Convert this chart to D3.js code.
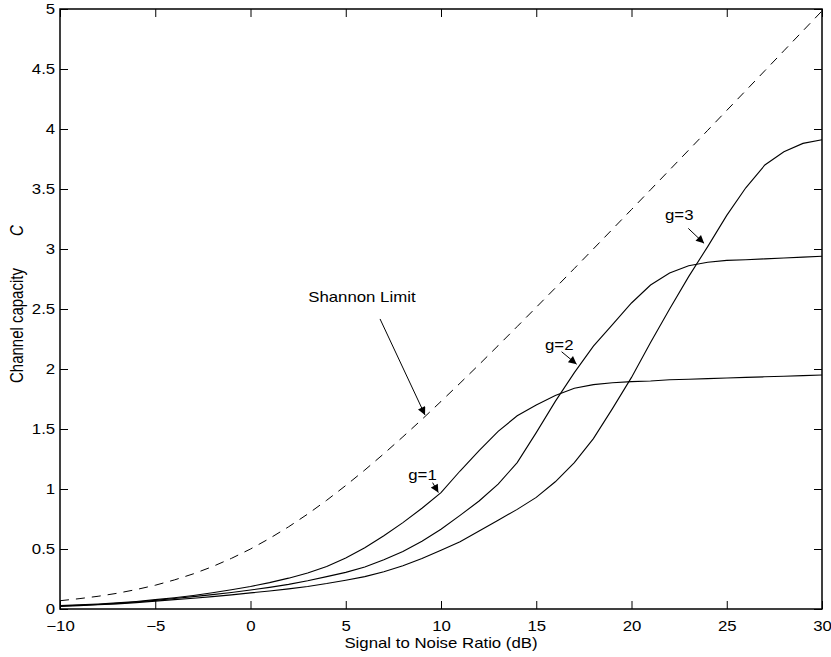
<!DOCTYPE html>
<html>
<head>
<meta charset="utf-8">
<script src="https://cdn.jsdelivr.net/npm/d3@7"></script>
<style>
  body { margin: 0; background: #fff; }
  text { font-family: "Liberation Sans", Arial, Helvetica, sans-serif; fill: #000; }
</style>
</head>
<body>
<script>
// SNR (dB) sample points
var snrDb = [-10, -9, -8, -7, -6, -5, -4, -3, -2, -1, 0, 1, 2, 3, 4, 5, 6, 7, 8, 9, 10,
  11, 12, 13, 14, 15, 16, 17, 18, 19, 20, 21, 22, 23, 24, 25, 26, 27, 28, 29, 30];

// Shannon limit (dashed)
var shannon = [0.069, 0.086, 0.106, 0.131, 0.162, 0.198, 0.242, 0.293, 0.353, 0.422, 0.5,
  0.588, 0.685, 0.791, 0.906, 1.029, 1.158, 1.294, 1.435, 1.58, 1.73,
  1.882, 2.037, 2.195, 2.354, 2.514, 2.675, 2.838, 3.001, 3.165, 3.329,
  3.494, 3.659, 3.824, 3.989, 4.155, 4.32, 4.486, 4.652, 4.818, 4.984];

// g=1
var g1 = [0.028, 0.034, 0.042, 0.051, 0.063, 0.078, 0.094, 0.113, 0.135, 0.16, 0.188,
  0.22, 0.257, 0.3, 0.355, 0.425, 0.51, 0.61, 0.72, 0.84, 0.97,
  1.15, 1.32, 1.48, 1.61, 1.7, 1.78, 1.84, 1.87, 1.885, 1.895,
  1.9, 1.91, 1.915, 1.92, 1.925, 1.93, 1.935, 1.94, 1.945, 1.95];

// g=2
var g2 = [0.025, 0.031, 0.038, 0.047, 0.058, 0.072, 0.087, 0.103, 0.12, 0.138, 0.158,
  0.18, 0.205, 0.235, 0.27, 0.305, 0.35, 0.41, 0.48, 0.565, 0.665,
  0.78, 0.9, 1.04, 1.22, 1.47, 1.73, 1.97, 2.19, 2.37, 2.55,
  2.7, 2.8, 2.86, 2.89, 2.905, 2.91, 2.918, 2.925, 2.932, 2.94];

// g=3
var g3 = [0.022, 0.028, 0.035, 0.043, 0.053, 0.066, 0.078, 0.09, 0.103, 0.118, 0.134,
  0.15, 0.168, 0.188, 0.212, 0.24, 0.27, 0.31, 0.36, 0.42, 0.49,
  0.56, 0.65, 0.74, 0.83, 0.93, 1.06, 1.22, 1.42, 1.67, 1.93,
  2.22, 2.5, 2.77, 3.02, 3.28, 3.51, 3.7, 3.81, 3.88, 3.91];

// ticks
var xTicks = [-10, -5, 0, 5, 10, 15, 20, 25, 30];
var xTickLabels = ["\u221210", "\u22125", "0", "5", "10", "15", "20", "25", "30"];
var yTicks = [0, 0.5, 1, 1.5, 2, 2.5, 3, 3.5, 4, 4.5, 5];
var yTickLabels = ["0", "0.5", "1", "1.5", "2", "2.5", "3", "3.5", "4", "4.5", "5"];

// annotations: label, text pos [dB, C], arrow start, arrow tip
var notes = [
  {label: "Shannon Limit", text: [3.03, 2.556], from: [6.8, 2.417], to: [9.16, 1.617]},
  {label: "g=1", text: [8.28, 1.075], from: [9.56, 1.053], to: [9.86, 0.97]},
  {label: "g=2", text: [15.46, 2.158], from: [16.33, 2.144], to: [17.12, 2.04]},
  {label: "g=3", text: [21.76, 3.24], from: [22.98, 3.172], to: [23.81, 3.047]}
];

var w = 831, h = 657;
var mLeft = 60, mRight = 822, mTop = 9, mBottom = 609;
var sx = 1.2; // text is drawn a bit wide, like the original

var x = d3.scaleLinear().domain([-10, 30]).range([mLeft, mRight]);
var y = d3.scaleLinear().domain([0, 5]).range([mBottom, mTop]);

var svg = d3.select("body").append("svg")
  .attr("width", w)
  .attr("height", h);

svg.append("defs").append("marker")
  .attr("id", "head")
  .attr("viewBox", "0 0 10 10")
  .attr("refX", 10).attr("refY", 5)
  .attr("markerUnits", "userSpaceOnUse")
  .attr("markerWidth", 10).attr("markerHeight", 8)
  .attr("orient", "auto")
  .append("path")
  .attr("d", "M0,0L10,5L0,10z")
  .attr("fill", "#000");

// axes, ticks pointing inward
var xAxis = svg.append("g")
  .attr("transform", "translate(0," + mBottom + ")")
  .call(d3.axisBottom(x).tickValues(xTicks)
    .tickFormat((d, i) => xTickLabels[i])
    .tickSizeInner(-8).tickSizeOuter(0).tickPadding(12));

var yAxis = svg.append("g")
  .attr("transform", "translate(" + mLeft + ",0)")
  .call(d3.axisLeft(y).tickValues(yTicks)
    .tickFormat((d, i) => yTickLabels[i])
    .tickSizeInner(-8).tickSizeOuter(0));

svg.append("g")
  .attr("transform", "translate(0," + mTop + ")")
  .call(d3.axisTop(x).tickValues(xTicks).tickFormat("").tickSizeInner(-8).tickSizeOuter(0));

svg.append("g")
  .attr("transform", "translate(" + mRight + ",0)")
  .call(d3.axisRight(y).tickValues(yTicks).tickFormat("").tickSizeInner(-8).tickSizeOuter(0));

svg.selectAll(".domain").remove();
svg.selectAll(".tick line").attr("stroke", "#000");
svg.selectAll(".tick text").attr("font-size", 14).attr("font-family", null);

xAxis.selectAll(".tick text").attr("transform", "scale(" + sx + ",1)");
yAxis.selectAll(".tick text").attr("x", -4).attr("transform", "scale(" + sx + ",1)");

svg.append("rect")
  .attr("x", mLeft).attr("y", mTop)
  .attr("width", mRight - mLeft).attr("height", mBottom - mTop)
  .attr("fill", "none")
  .attr("stroke", "#000")
  .attr("stroke-width", 1.5);

// curves
var line = d3.line()
  .x((d, i) => x(snrDb[i]))
  .y(d => y(d));

svg.append("path").datum(shannon)
  .attr("d", line)
  .attr("fill", "none").attr("stroke", "#000").attr("stroke-width", 1)
  .attr("stroke-dasharray", "9,7");

[g1, g2, g3].forEach(s => {
  svg.append("path").datum(s)
    .attr("d", line)
    .attr("fill", "none").attr("stroke", "#000").attr("stroke-width", 1.1);
});

// annotations
notes.forEach(n => {
  svg.append("text")
    .attr("transform", "translate(" + x(n.text[0]) + "," + y(n.text[1]) + ") scale(" + sx + ",1)")
    .attr("font-size", 14)
    .text(n.label);
  svg.append("line")
    .attr("x1", x(n.from[0])).attr("y1", y(n.from[1]))
    .attr("x2", x(n.to[0])).attr("y2", y(n.to[1]))
    .attr("stroke", "#000").attr("stroke-width", 1)
    .attr("marker-end", "url(#head)");
});

// axis labels
svg.append("text")
  .attr("transform", "translate(" + ((mLeft + mRight) / 2) + ",648) scale(" + sx + ",1)")
  .attr("text-anchor", "middle")
  .attr("font-size", 14)
  .text("Signal to Noise Ratio (dB)");

var yl = svg.append("text")
  .attr("transform", "translate(23,383) scale(" + sx + ",1) rotate(-90)")
  .attr("font-size", 15);
yl.append("tspan").text("Channel capacity");
yl.append("tspan").attr("x", 147).attr("font-style", "italic").text("C");
</script>
</body>
</html>
